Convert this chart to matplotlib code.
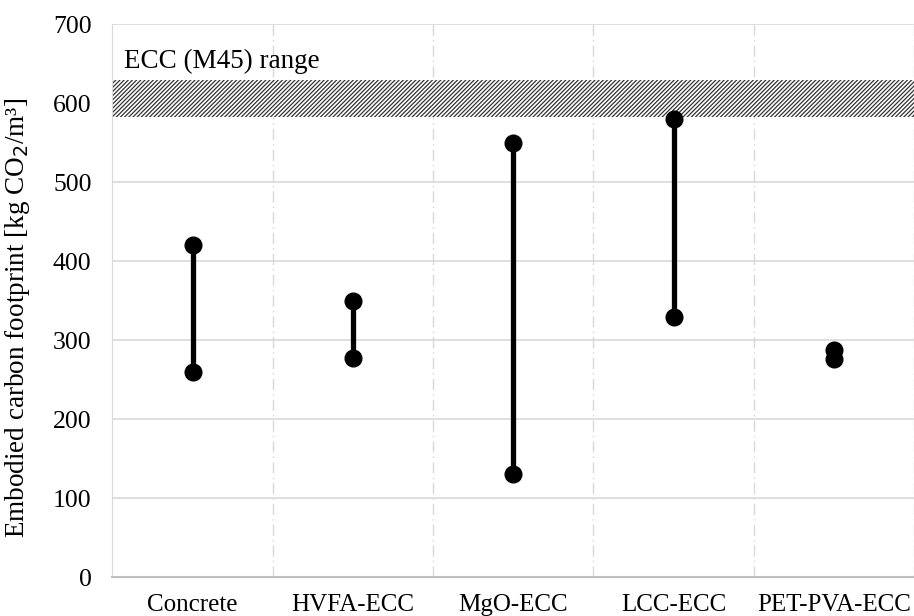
import matplotlib.pyplot as plt
import matplotlib as mpl

# data
categories = ["Concrete", "HVFA-ECC", "MgO-ECC", "LCC-ECC", "PET-PVA-ECC"]
low = [260, 277, 131, 329, 276]
high = [420, 350, 550, 580, 287]
ecc_range = (582, 629)

mpl.rcParams['font.family'] = ['Liberation Serif', 'DejaVu Serif']
mpl.rcParams['hatch.linewidth'] = 0.9

fig, ax = plt.subplots(figsize=(9.14, 6.16), dpi=100)
fig.subplots_adjust(left=0.123, right=1.0, top=0.961, bottom=0.063)

x = list(range(len(categories)))
ax.set_xlim(-0.5, len(categories) - 0.5)
ax.set_ylim(0, 700)

# horizontal grid
for yv in range(100, 701, 100):
    ax.axhline(yv, color='#d9d9d9', lw=1.2, zorder=0)
# vertical dash-dot separators
for xb in range(len(categories)):
    ax.axvline(xb + 0.5, color='#d9d9d9', lw=1.0, ls=(0, (8, 3, 1, 3)), zorder=0)

# ECC band
ax.fill_between([-0.5, len(categories) - 0.5], ecc_range[0], ecc_range[1],
                facecolor='white', edgecolor='#333333', hatch='////////', lw=0, zorder=1)
ax.text(-0.43, 653, "ECC (M45) range", fontsize=19.5, va='center', ha='left')

# ranges
for xi, lo, hi in zip(x, low, high):
    ax.plot([xi, xi], [lo, hi], color='black', lw=3.8, zorder=3,
            marker='o', markersize=12, solid_capstyle='butt')

ax.set_xticks(x)
ax.set_xticklabels(categories, fontsize=18)
ax.set_yticks(range(0, 701, 100))
ax.tick_params(axis='y', labelsize=18.5, length=0, pad=15)
ax.tick_params(axis='x', length=0, pad=12)
ax.set_ylabel("Embodied carbon footprint [kg CO$_2$/m³]", fontsize=19.5)
ax.yaxis.set_label_coords(-0.1, 0.468)

for s in ['top', 'right']:
    ax.spines[s].set_visible(False)
ax.spines['left'].set_color('#d9d9d9')
ax.spines['bottom'].set_color('#bfbfbf')
ax.spines['bottom'].set_linewidth(1.5)

fig.savefig("out.png", dpi=100)
